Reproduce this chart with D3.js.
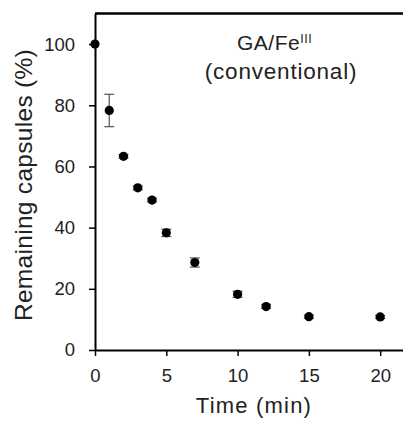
<!DOCTYPE html>
<html>
<head>
<meta charset="utf-8">
<script src="https://cdn.jsdelivr.net/npm/d3@7"></script>
<style>
  body { margin: 0; background: #fff; }
  text { font-family: "Liberation Sans", Arial, sans-serif; fill: #222; }
</style>
</head>
<body>
<svg id="chart"></svg>
<script>
(function(){
    "use strict";

    const times = [0, 1, 2, 3, 4, 5, 7, 10, 12, 15, 20];
    const remaining = [100, 78.3, 63.3, 53.0, 49.0, 38.3, 28.6, 18.2, 14.2, 10.9, 10.8];
    const errors = [0, 5.3, 0.6, 0.6, 0.6, 1.2, 1.5, 1.0, 0.6, 0.5, 0.5];
    const xTicks = [0, 5, 10, 15, 20];
    const yTicks = [0, 20, 40, 60, 80, 100];

    const width = 403,
        height = 421;

    const svg = d3.select("svg#chart")
        .attr("width", width)
        .attr("height", height);

    const x = d3.scaleLinear().domain([0, 21.6]).range([95, 403]);
    const y = d3.scaleLinear().domain([0, 110]).range([350, 13.5]);

    // axes
    svg.append("g")
        .attr("transform", `translate(0, ${y(0)})`)
        .call(d3.axisBottom(x).tickValues(xTicks).tickSize(6).tickPadding(13).tickSizeOuter(0))
        .call(g => g.selectAll("text").style("font-size", "18.5px").attr("fill", "#222"))
        .call(g => g.select(".domain").attr("stroke-width", 2));

    svg.append("g")
        .attr("transform", `translate(${x(0)}, 0)`)
        .call(d3.axisLeft(y).tickValues(yTicks).tickSize(6).tickPadding(14).tickSizeOuter(0))
        .call(g => g.selectAll("text").style("font-size", "18.5px").attr("fill", "#222"))
        .call(g => g.select(".domain").attr("stroke-width", 2));

    // top frame line
    svg.append("line")
        .attr("x1", x(0)).attr("x2", width)
        .attr("y1", y(110)).attr("y2", y(110))
        .attr("stroke", "#000").attr("stroke-width", 2.5);

    svg.selectAll(".tick line").attr("stroke-width", 1.5);

    // error bars
    const eb = svg.append("g").selectAll("g")
        .data(times.map((t, i) => ({t: t, v: remaining[i], e: errors[i]})).filter(d => d.e > 0))
        .join("g")
        .attr("stroke", "#555")
        .attr("stroke-width", 1.2);
    eb.append("line")
        .attr("x1", d => x(d.t)).attr("x2", d => x(d.t))
        .attr("y1", d => y(d.v + d.e)).attr("y2", d => y(d.v - d.e));
    eb.append("line")
        .attr("x1", d => x(d.t) - 5).attr("x2", d => x(d.t) + 5)
        .attr("y1", d => y(d.v + d.e)).attr("y2", d => y(d.v + d.e));
    eb.append("line")
        .attr("x1", d => x(d.t) - 5).attr("x2", d => x(d.t) + 5)
        .attr("y1", d => y(d.v - d.e)).attr("y2", d => y(d.v - d.e));

    // points
    svg.append("g").selectAll("circle")
        .data(times)
        .join("circle")
        .attr("cx", d => x(d))
        .attr("cy", (d, i) => y(remaining[i]))
        .attr("r", 4.6)
        .attr("fill", "#000");

    // axis titles
    svg.append("text")
        .attr("x", 254).attr("y", 413)
        .attr("text-anchor", "middle")
        .style("font-size", "22px")
        .style("letter-spacing", "1.2px")
        .text("Time (min)");

    svg.append("text")
        .attr("transform", "translate(32, 185) rotate(-90)")
        .attr("text-anchor", "middle")
        .style("font-size", "24.5px")
        .style("letter-spacing", "0.3px")
        .text("Remaining capsules (%)");

    // annotation
    const ann = svg.append("text")
        .attr("x", 237).attr("y", 49.5)
        .style("font-size", "21px")
        .style("letter-spacing", "0.5px");
    ann.append("tspan").text("GA/Fe");
    ann.append("tspan").attr("dy", -7).style("font-size", "12.5px").text("III");

    svg.append("text")
        .attr("x", 281).attr("y", 78.5)
        .attr("text-anchor", "middle")
        .style("font-size", "22.5px")
        .style("letter-spacing", "0.8px")
        .text("(conventional)");
})();
</script>
</body>
</html>
